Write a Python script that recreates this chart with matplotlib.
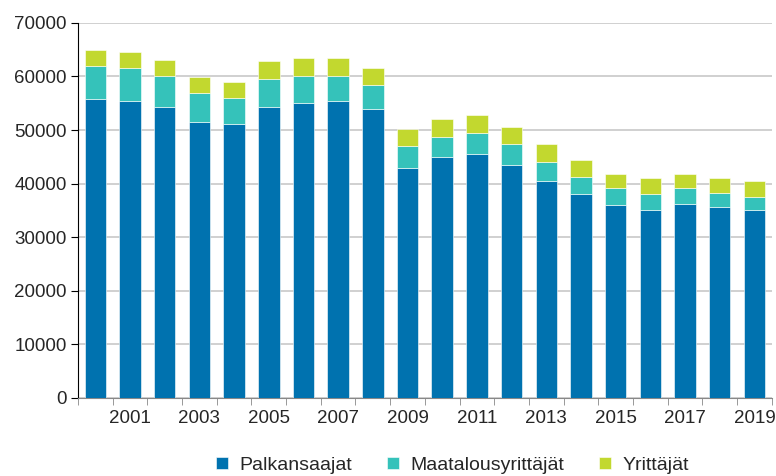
import matplotlib
matplotlib.use("Agg")
import matplotlib.pyplot as plt
import numpy as np

plt.rcParams['font.family'] = ['Liberation Sans', 'DejaVu Sans']

years = list(range(2000, 2020))
palkansaajat = [55700, 55350, 54230, 51430, 51180, 54230, 55100, 55410, 53920, 42850,
                44930, 45550, 43440, 40450, 38080, 35970, 35100, 36270, 35710, 35040]
maatalousyrittajat = [6240, 6250, 5900, 5420, 4790, 5280, 5030, 4720, 4420, 4180,
                      3850, 3920, 3920, 3610, 3230, 3290, 2980, 2990, 2620, 2420]
yrittajat = [2990, 3000, 2970, 3040, 2980, 3310, 3300, 3300, 3290, 3250,
             3300, 3300, 3230, 3300, 3060, 2610, 2920, 2610, 2670, 2990]
series_names = ['Palkansaajat', 'Maatalousyrittäjät', 'Yrittäjät']
colors = ['#0072AF', '#35C2BA', '#C2D82F']
yticks = list(range(0, 70001, 10000))

fig = plt.figure(figsize=(7.76, 4.76), dpi=100)
ax = fig.add_axes([0.1005, 0.164, 0.894, 0.788])

x = np.arange(len(years))
p = np.array(palkansaajat)
m = np.array(maatalousyrittajat)
yv = np.array(yrittajat)
w = 0.62
ax.bar(x, p, w, color=colors[0], label=series_names[0], edgecolor='white', linewidth=0.4, zorder=3)
ax.bar(x, m, w, bottom=p, color=colors[1], label=series_names[1], edgecolor='white', linewidth=0.4, zorder=3)
ax.bar(x, yv, w, bottom=p + m, color=colors[2], label=series_names[2], edgecolor='white', linewidth=0.4, zorder=3)

tc = '#262626'
ax.set_xlim(-0.5, len(years) - 0.5)
ax.set_ylim(0, 70000)
ax.set_yticks(yticks)
ax.set_yticklabels([str(v) for v in yticks], fontsize=13.5, color=tc)
ax.yaxis.grid(True, color='#C8C8C8', linewidth=1.2, zorder=0)
ax.set_axisbelow(True)

ax.set_xticks(x[1::2])
ax.set_xticklabels([str(years[i]) for i in range(1, len(years), 2)], fontsize=13.5, color=tc)
ax.tick_params(axis='x', length=0, pad=9)
ax.set_xticks(np.arange(-0.5, len(years), 1), minor=True)
ax.tick_params(axis='x', which='minor', length=5, color='#888888')

ax.tick_params(axis='y', length=5, color='black', pad=3)
for s in ['top', 'right']:
    ax.spines[s].set_visible(False)
ax.spines['left'].set_color('black')
ax.spines['bottom'].set_color('#888888')

leg = fig.legend(loc='center', bbox_to_anchor=(0.583, 0.022), ncol=3, frameon=False,
                 fontsize=14, handlelength=0.6, handleheight=0.6, columnspacing=1.8,
                 handletextpad=0.6)
for t in leg.get_texts():
    t.set_color(tc)

fig.savefig('out.png', dpi=100)
